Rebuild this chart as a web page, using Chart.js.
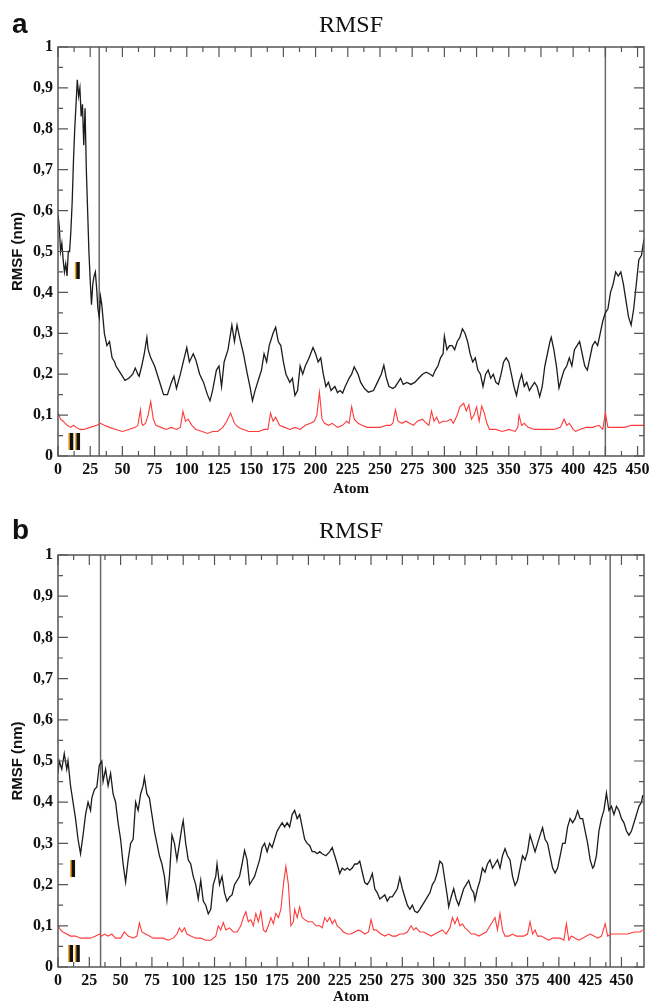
<!DOCTYPE html>
<html>
<head>
<meta charset="utf-8">
<script src="https://cdn.jsdelivr.net/npm/chart.js@4"></script>
<style>
  body { margin: 0; background: #fff; }
  canvas { display: block; }
</style>
</head>
<body>
<canvas id="chartA" width="649" height="500"></canvas>
<canvas id="chartB" width="649" height="503"></canvas>
<script>
// panel a, curve I (black)
const aAtomsI = [0,1,2,3,4,5,6,7,8,9,10,11,12,13,14,15,16,17,18,19,20,21,22,23,24,25,26,27,28,29,30,31,32,33,34,36,38,40,42,44,45,47,49,52,55,58,60,62,63,65,67,69,70,72,75,78,80,82,85,88,90,92,95,98,100,102,105,107,110,113,116,118,120,123,125,127,129,132,134,135,137,139,141,144,147,149,151,153,156,158,160,162,164,167,169,171,173,175,177,180,182,184,186,188,190,192,195,198,200,202,204,206,208,210,212,215,217,219,221,223,226,228,230,233,235,238,241,245,248,251,253,255,257,260,262,264,266,268,271,274,277,280,283,286,289,291,293,295,297,299,300,302,304,306,308,310,312,314,316,318,320,322,324,326,328,330,332,334,336,338,340,342,344,346,348,350,352,354,356,358,360,362,364,366,368,370,372,374,376,378,380,382,383,385,387,389,391,393,395,397,399,401,403,405,407,409,411,413,415,417,419,421,423,425,427,429,431,433,435,437,439,441,443,445,447,449,451,453,455];
const aRmsfI = [0.59,0.56,0.5,0.52,0.48,0.45,0.47,0.44,0.5,0.5,0.55,0.62,0.72,0.8,0.86,0.92,0.88,0.9,0.83,0.86,0.76,0.85,0.7,0.6,0.5,0.43,0.37,0.42,0.44,0.45,0.41,0.36,0.34,0.39,0.37,0.3,0.27,0.28,0.24,0.23,0.22,0.21,0.2,0.185,0.19,0.2,0.215,0.2,0.195,0.22,0.25,0.29,0.26,0.24,0.22,0.19,0.17,0.15,0.15,0.18,0.195,0.165,0.2,0.24,0.265,0.23,0.25,0.235,0.2,0.18,0.15,0.135,0.16,0.21,0.22,0.17,0.23,0.26,0.3,0.32,0.28,0.32,0.29,0.25,0.2,0.17,0.135,0.16,0.19,0.21,0.25,0.23,0.27,0.3,0.315,0.28,0.27,0.23,0.2,0.18,0.19,0.148,0.16,0.22,0.2,0.22,0.24,0.265,0.25,0.23,0.24,0.2,0.17,0.18,0.16,0.17,0.155,0.16,0.154,0.17,0.19,0.2,0.218,0.2,0.18,0.165,0.156,0.16,0.18,0.2,0.222,0.19,0.17,0.165,0.17,0.18,0.19,0.175,0.18,0.175,0.18,0.19,0.2,0.205,0.2,0.195,0.21,0.22,0.24,0.25,0.293,0.26,0.27,0.27,0.26,0.28,0.29,0.311,0.3,0.28,0.25,0.23,0.24,0.21,0.2,0.17,0.2,0.21,0.19,0.2,0.18,0.175,0.2,0.23,0.24,0.23,0.2,0.17,0.148,0.18,0.2,0.17,0.18,0.16,0.17,0.18,0.17,0.145,0.17,0.22,0.25,0.28,0.29,0.26,0.22,0.166,0.19,0.21,0.22,0.24,0.22,0.26,0.27,0.28,0.25,0.22,0.21,0.24,0.27,0.28,0.27,0.3,0.33,0.35,0.36,0.4,0.42,0.45,0.44,0.45,0.42,0.38,0.34,0.32,0.36,0.42,0.48,0.49,0.53];

// panel a, curve II (red)
const aAtomsII = [0,2,4,7,10,12,14,17,20,25,30,33,36,40,45,50,55,60,62,64,65,66,68,70,72,74,76,80,84,88,92,95,97,99,101,104,107,112,116,120,124,128,131,134,137,140,144,148,152,156,160,163,165,167,169,172,176,180,184,188,192,196,199,201,203,205,207,210,213,217,221,224,226,228,230,233,236,240,245,250,255,258,260,262,264,267,270,273,276,279,283,286,288,290,292,294,296,299,302,305,307,310,312,315,317,319,321,323,325,327,329,331,333,335,340,345,350,355,357,358,360,362,365,370,375,380,385,390,393,395,397,400,402,405,410,415,420,423,425,427,430,435,440,445,450,455];
const aRmsfII = [0.105,0.09,0.085,0.075,0.07,0.075,0.07,0.065,0.065,0.07,0.075,0.08,0.075,0.07,0.065,0.06,0.065,0.07,0.075,0.113,0.08,0.075,0.08,0.1,0.133,0.09,0.075,0.07,0.065,0.07,0.065,0.07,0.109,0.085,0.09,0.075,0.065,0.06,0.055,0.06,0.06,0.07,0.085,0.105,0.08,0.07,0.065,0.06,0.06,0.06,0.065,0.065,0.105,0.085,0.095,0.075,0.07,0.065,0.07,0.065,0.075,0.08,0.085,0.1,0.156,0.09,0.08,0.075,0.08,0.07,0.075,0.085,0.08,0.121,0.09,0.08,0.075,0.07,0.07,0.07,0.075,0.075,0.08,0.113,0.085,0.08,0.085,0.08,0.075,0.085,0.09,0.08,0.075,0.11,0.085,0.095,0.08,0.085,0.085,0.09,0.08,0.1,0.12,0.129,0.11,0.125,0.09,0.1,0.12,0.085,0.122,0.105,0.08,0.065,0.065,0.06,0.065,0.06,0.07,0.1,0.075,0.08,0.07,0.065,0.065,0.065,0.065,0.07,0.09,0.075,0.08,0.065,0.06,0.065,0.07,0.07,0.075,0.065,0.105,0.07,0.07,0.07,0.07,0.075,0.075,0.075];

// panel b, curve I (black)
const bAtomsI = [0,1,3,5,7,8,10,12,14,16,18,20,22,24,26,27,29,31,33,35,36,38,40,42,44,46,48,50,52,54,56,58,60,62,64,66,68,69,71,73,75,77,79,81,83,85,87,89,91,93,95,97,99,100,102,104,106,108,110,112,114,116,118,120,122,124,126,127,129,131,133,135,137,139,141,143,145,147,149,151,153,155,157,159,161,163,165,167,169,171,173,175,177,179,181,183,185,187,189,191,193,195,197,199,201,203,205,207,209,211,214,217,219,221,223,225,227,229,231,233,235,237,239,241,243,245,247,249,251,253,255,257,259,261,263,265,267,269,271,273,275,277,279,281,283,285,287,289,291,293,295,297,299,301,303,305,307,309,311,312,314,316,318,320,322,324,326,328,330,332,333,335,337,339,341,343,345,347,349,351,353,355,357,359,361,363,365,367,369,371,373,375,377,379,381,383,385,387,389,391,393,395,397,399,401,403,405,407,409,411,413,415,417,419,421,423,425,427,428,430,432,434,436,438,440,442,444,446,448,450,452,454,456,458,460,462,464,466,467];
const bRmsfI = [0.47,0.5,0.48,0.518,0.48,0.5,0.44,0.4,0.36,0.31,0.275,0.32,0.37,0.4,0.38,0.41,0.43,0.437,0.49,0.5,0.45,0.48,0.44,0.47,0.42,0.4,0.35,0.31,0.25,0.206,0.26,0.3,0.31,0.4,0.38,0.42,0.44,0.46,0.42,0.41,0.37,0.33,0.3,0.27,0.25,0.22,0.162,0.22,0.32,0.3,0.26,0.3,0.34,0.355,0.3,0.26,0.25,0.22,0.2,0.165,0.21,0.16,0.15,0.129,0.14,0.2,0.22,0.25,0.2,0.22,0.18,0.16,0.17,0.175,0.2,0.21,0.22,0.25,0.283,0.26,0.2,0.21,0.22,0.24,0.26,0.29,0.3,0.28,0.3,0.29,0.31,0.33,0.34,0.35,0.34,0.35,0.34,0.37,0.38,0.36,0.37,0.34,0.31,0.3,0.295,0.28,0.28,0.275,0.28,0.275,0.27,0.28,0.29,0.27,0.25,0.227,0.24,0.235,0.24,0.235,0.24,0.25,0.25,0.257,0.23,0.205,0.2,0.21,0.227,0.19,0.18,0.165,0.17,0.175,0.16,0.17,0.17,0.18,0.19,0.217,0.19,0.17,0.15,0.14,0.15,0.135,0.132,0.14,0.15,0.16,0.17,0.18,0.2,0.21,0.23,0.257,0.25,0.21,0.17,0.146,0.17,0.19,0.165,0.15,0.17,0.19,0.2,0.21,0.19,0.18,0.162,0.19,0.21,0.24,0.23,0.25,0.26,0.24,0.25,0.26,0.24,0.27,0.287,0.27,0.26,0.22,0.198,0.21,0.24,0.27,0.26,0.28,0.32,0.3,0.28,0.3,0.32,0.338,0.31,0.3,0.27,0.24,0.228,0.24,0.27,0.3,0.3,0.34,0.36,0.35,0.36,0.379,0.36,0.36,0.33,0.3,0.26,0.24,0.244,0.27,0.33,0.36,0.38,0.422,0.38,0.39,0.37,0.39,0.38,0.36,0.35,0.33,0.32,0.33,0.35,0.37,0.39,0.4,0.417];

// panel b, curve II (red)
const bAtomsII = [0,2,4,7,10,14,18,22,26,30,33,35,37,40,43,46,50,53,56,60,63,65,67,70,73,76,80,84,88,92,95,97,99,101,103,106,110,114,118,122,126,128,130,132,134,137,140,143,146,148,150,152,154,156,158,160,162,164,166,168,170,172,174,176,178,180,182,184,186,188,189,191,193,195,197,200,203,206,209,211,213,215,217,219,221,223,225,228,231,234,237,240,243,245,248,250,252,254,256,258,261,264,267,270,273,276,279,282,284,286,289,292,295,298,301,304,307,310,313,315,317,319,321,323,325,327,330,333,336,339,342,345,347,349,351,353,355,357,360,363,366,369,372,375,377,379,381,383,386,389,392,395,398,401,404,406,408,410,413,416,419,422,425,428,431,434,437,439,442,446,450,455,460,465,467];
const bRmsfII = [0.101,0.09,0.085,0.08,0.075,0.075,0.07,0.07,0.07,0.075,0.08,0.075,0.08,0.075,0.08,0.07,0.07,0.085,0.075,0.07,0.075,0.107,0.085,0.08,0.075,0.07,0.07,0.07,0.065,0.07,0.08,0.095,0.085,0.095,0.08,0.075,0.07,0.07,0.065,0.065,0.075,0.1,0.09,0.108,0.09,0.095,0.085,0.085,0.1,0.12,0.134,0.11,0.115,0.1,0.13,0.11,0.135,0.09,0.085,0.1,0.12,0.105,0.13,0.12,0.14,0.2,0.244,0.2,0.1,0.11,0.14,0.12,0.146,0.12,0.115,0.11,0.11,0.1,0.1,0.095,0.12,0.11,0.12,0.105,0.115,0.1,0.095,0.085,0.08,0.08,0.085,0.09,0.085,0.08,0.085,0.115,0.09,0.09,0.085,0.08,0.075,0.08,0.075,0.075,0.08,0.08,0.085,0.1,0.09,0.095,0.085,0.085,0.08,0.075,0.08,0.085,0.09,0.08,0.095,0.12,0.105,0.12,0.1,0.105,0.095,0.09,0.08,0.08,0.075,0.08,0.085,0.1,0.11,0.12,0.09,0.13,0.09,0.075,0.075,0.08,0.075,0.075,0.075,0.08,0.11,0.08,0.09,0.075,0.075,0.07,0.065,0.07,0.07,0.07,0.065,0.105,0.065,0.075,0.07,0.065,0.07,0.075,0.08,0.075,0.07,0.075,0.105,0.075,0.08,0.08,0.08,0.08,0.085,0.085,0.09];

const yTickLabel = v => v === 0 ? '0' : v === 1 ? '1' : v.toFixed(1).replace('.', ',');
const tickFont = { family: 'Liberation Serif', weight: 'bold', size: 16 };

// frame, inner ticks, segment borders and all the panel texts
const panelFrame = {
  id: 'panelFrame',
  beforeDatasetsDraw(chart, args, opts) {
    const { ctx, chartArea: a, scales: { x } } = chart;
    ctx.save();
    ctx.strokeStyle = '#6a6a6a';
    ctx.lineWidth = 1.5;
    opts.bounds.forEach(v => {
      const px = x.getPixelForValue(v);
      ctx.beginPath();
      ctx.moveTo(px, a.top);
      ctx.lineTo(px, a.bottom);
      ctx.stroke();
    });
    ctx.restore();
  },
  afterDraw(chart, args, opts) {
    const { ctx, chartArea: a, scales: { x, y } } = chart;
    ctx.save();
    ctx.strokeStyle = '#555';
    ctx.lineWidth = 1.5;
    ctx.strokeRect(a.left, a.top, a.right - a.left, a.bottom - a.top);

    ctx.lineWidth = 1.2;
    ctx.beginPath();
    for (let v = 0; v <= x.max; v += 12.5) {
      const px = x.getPixelForValue(v);
      const len = v % 25 === 0 ? 10 : 5;
      ctx.moveTo(px, a.bottom); ctx.lineTo(px, a.bottom - len);
      ctx.moveTo(px, a.top); ctx.lineTo(px, a.top + len);
    }
    for (let i = 0; i <= 20; i++) {
      const py = y.getPixelForValue(i * 0.05);
      const len = i % 2 === 0 ? 10 : 5;
      ctx.moveTo(a.left, py); ctx.lineTo(a.left + len, py);
      ctx.moveTo(a.right, py); ctx.lineTo(a.right - len, py);
    }
    ctx.stroke();

    const cx = (a.left + a.right) / 2;
    ctx.fillStyle = '#111';
    ctx.textAlign = 'center';
    ctx.textBaseline = 'alphabetic';
    ctx.font = '24px "Liberation Serif"';
    ctx.fillText('RMSF', cx, opts.titleY);
    ctx.font = 'bold 15px "Liberation Serif"';
    ctx.fillText('Atom', cx, opts.atomY);

    ctx.textAlign = 'left';
    ctx.font = 'bold 28px "Liberation Sans"';
    ctx.fillText(opts.letter, 12, opts.titleY + 1);

    ctx.save();
    ctx.translate(18, (a.top + a.bottom) / 2);
    ctx.rotate(-Math.PI / 2);
    ctx.textAlign = 'center';
    ctx.textBaseline = 'middle';
    ctx.font = 'bold 15px "Liberation Sans"';
    ctx.fillText('RMSF (nm)', 0, 0);
    ctx.restore();

    ctx.font = 'bold 24px "Liberation Sans"';
    ctx.textAlign = 'left';
    opts.marks.forEach(m => {
      const px = x.getPixelForValue(m.atom);
      const py = y.getPixelForValue(m.rmsf);
      ctx.fillStyle = '#f0a020';
      ctx.fillText(m.text, px - 1.5, py);
      ctx.fillStyle = '#111';
      ctx.fillText(m.text, px, py);
    });
    ctx.restore();
  }
};

function makePanel(id, atomsI, rmsfI, atomsII, rmsfII, xMax, topPad, xHeight, frameOpts) {
  const ctx = document.getElementById(id).getContext('2d');
  return new Chart(ctx, {
    type: 'line',
    data: {
      datasets: [{
        label: 'I',
        data: atomsI.map((a, i) => ({ x: a, y: rmsfI[i] })),
        borderColor: '#1c1c1c',
        borderWidth: 1.3,
        pointRadius: 0,
        tension: 0
      }, {
        label: 'II',
        data: atomsII.map((a, i) => ({ x: a, y: rmsfII[i] })),
        borderColor: '#ff3a3a',
        borderWidth: 1.1,
        pointRadius: 0,
        tension: 0
      }]
    },
    options: {
      responsive: false,
      animation: false,
      layout: { padding: { top: topPad, right: 5, left: 0, bottom: 0 } },
      plugins: {
        legend: { display: false },
        tooltip: { enabled: false },
        panelFrame: frameOpts
      },
      scales: {
        x: {
          type: 'linear',
          min: 0,
          max: xMax,
          border: { display: false },
          grid: { display: false, drawTicks: false },
          ticks: { stepSize: 25, includeBounds: false, maxRotation: 0, autoSkip: false, padding: 4, color: '#111', font: tickFont },
          afterFit: s => { s.height = xHeight; s.paddingLeft = 0; s.paddingRight = 0; }
        },
        y: {
          min: 0,
          max: 1,
          border: { display: false },
          grid: { display: false, drawTicks: false },
          ticks: { stepSize: 0.1, padding: 5, color: '#111', font: tickFont, callback: yTickLabel },
          afterFit: s => { s.width = 58; s.paddingTop = 0; s.paddingBottom = 0; }
        }
      }
    },
    plugins: [panelFrame]
  });
}

makePanel('chartA', aAtomsI, aRmsfI, aAtomsII, aRmsfII, 455, 47, 44, {
  letter: 'a', titleY: 32, atomY: 493, bounds: [32, 425],
  marks: [{ text: 'I', atom: 13, rmsf: 0.433 }, { text: 'II', atom: 8, rmsf: 0.015 }]
});
makePanel('chartB', bAtomsI, bRmsfI, bAtomsII, bRmsfII, 468, 55, 36, {
  letter: 'b', titleY: 38, atomY: 501, bounds: [34, 441],
  marks: [{ text: 'I', atom: 9.5, rmsf: 0.219 }, { text: 'II', atom: 8, rmsf: 0.012 }]
});
</script>
</body>
</html>
